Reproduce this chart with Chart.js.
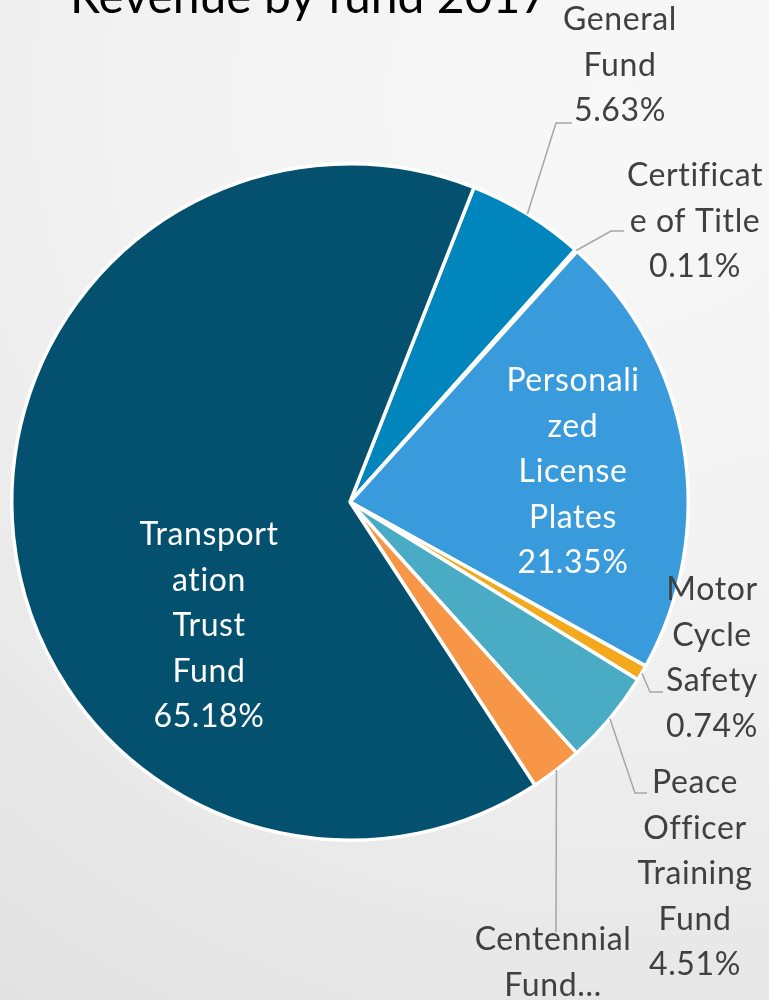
<!DOCTYPE html>
<html>
<head>
<meta charset="utf-8">
<script src="https://cdn.jsdelivr.net/npm/chart.js@4.4.0/dist/chart.umd.min.js"></script>
<style>
  html, body { margin: 0; padding: 0; }
  body {
    width: 769px; height: 1000px; overflow: hidden;
    background: radial-gradient(circle at 80% 10%, #f8f8f8 0%, #f2f2f2 45%, #e2e2e2 100%);
  }
  #wrap { position: relative; width: 769px; height: 1000px; }
</style>
</head>
<body>
<div id="wrap"><canvas id="grafico"></canvas></div>
<script>
// dados do gráfico
const titulo = 'Revenue by fund 2017';
const fundos = ['General Fund', 'Certificate of Title', 'Personalized License Plates', 'Motor Cycle Safety', 'Peace Officer Training Fund', 'Centennial Fund', 'Transportation Trust Fund'];
const percentuais = [5.63, 0.11, 21.35, 0.74, 4.51, 2.48, 65.18];
// texto quebrado como aparece no gráfico
const linhasRotulo = [
  ['General', 'Fund'],
  ['Certificat', 'e of Title'],
  ['Personali', 'zed', 'License', 'Plates'],
  ['Motor', 'Cycle', 'Safety'],
  ['Peace', 'Officer', 'Training', 'Fund'],
  ['Centennial', 'Fund…'],
  ['Transport', 'ation', 'Trust', 'Fund']
];
const cores = ['#0086bd', '#1b6f93', '#3a9bdc', '#f4a81c', '#4aabc5', '#f79646', '#03506f'];

// posição dos rótulos (centro x, y da primeira linha, dentro?, cotovelo e fim da linha guia)
const layout = [
  { x: 620, y: 20, dentro: false, guia: [[556, 123], [572, 123]] },
  { x: 695, y: 176, dentro: false, guia: [[611, 231], [624, 231]] },
  { x: 573, y: 381, dentro: true },
  { x: 712, y: 590, dentro: false, guia: [[650, 692], [663, 692]] },
  { x: 695, y: 783, dentro: false, guia: [[635, 793], [647, 793]] },
  { x: 553, y: 940, dentro: false, guia: [[556, 932]], mostraPct: false },
  { x: 209, y: 535, dentro: true }
];

const FONTE = 'Lato, "Open Sans", sans-serif';
const ALTURA_LINHA = 45.5;

const pluginRotulos = {
  id: 'rotulos',
  afterDatasetsDraw(chart) {
    const ctx = chart.ctx;
    const arcos = chart.getDatasetMeta(0).data;
    ctx.save();
    // título (cortado no topo como na imagem)
    ctx.fillStyle = '#000';
    ctx.font = '48px ' + FONTE;
    ctx.textAlign = 'left';
    ctx.textBaseline = 'alphabetic';
    ctx.fillText(titulo, 70, 13);

    // espaçamento leve evita a ligadura "ti" da Lato
    ctx.letterSpacing = '0.6px';
    arcos.forEach((arco, i) => {
      const lay = layout[i];
      const p = arco.getProps(['x', 'y', 'startAngle', 'endAngle', 'outerRadius'], true);
      if (lay.guia) {
        const meio = (p.startAngle + p.endAngle) / 2;
        ctx.beginPath();
        ctx.moveTo(p.x + Math.cos(meio) * p.outerRadius, p.y + Math.sin(meio) * p.outerRadius);
        lay.guia.forEach(pt => ctx.lineTo(pt[0], pt[1]));
        ctx.strokeStyle = '#a6a6a6';
        ctx.lineWidth = 1.5;
        ctx.stroke();
      }
      const linhas = linhasRotulo[i].slice();
      if (lay.mostraPct !== false) linhas.push(percentuais[i].toFixed(2) + '%');
      ctx.font = '32px ' + FONTE;
      ctx.textAlign = 'center';
      ctx.textBaseline = 'middle';
      ctx.fillStyle = lay.dentro ? '#ffffff' : '#404040';
      linhas.forEach((t, k) => ctx.fillText(t, lay.x, lay.y + k * ALTURA_LINHA));
    });
    ctx.restore();
  }
};

const ctx = document.getElementById('grafico').getContext('2d');
new Chart(ctx, {
  type: 'pie',
  data: {
    labels: fundos,
    datasets: [{
      data: percentuais,
      backgroundColor: cores,
      borderColor: '#ffffff',
      borderWidth: 3.5
    }]
  },
  options: {
    responsive: true,
    maintainAspectRatio: false,
    animation: false,
    rotation: 21.5,
    layout: { padding: { left: 10, right: 79, top: 162, bottom: 158 } },
    plugins: {
      legend: { display: false },
      tooltip: { enabled: false },
      title: { display: false }
    }
  },
  plugins: [pluginRotulos]
});
</script>
</body>
</html>
